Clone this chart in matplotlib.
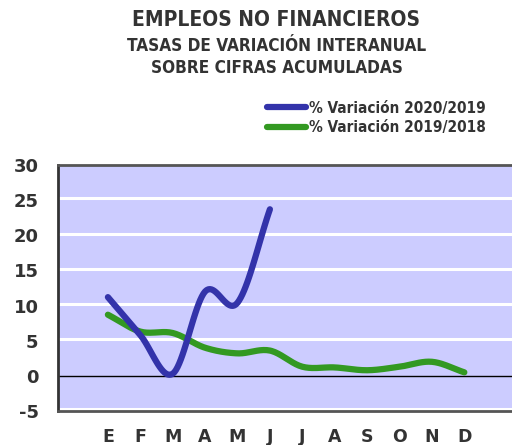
import numpy as np
import matplotlib
matplotlib.use("Agg")
import matplotlib.pyplot as plt
from matplotlib import font_manager as fm

months = ["E", "F", "M", "A", "M", "J", "J", "A", "S", "O", "N", "D"]
var_2020_2019 = [11.2, 5.8, 0.3, 12.0, 10.4, 23.7]
var_2019_2018 = [8.7, 6.3, 6.1, 4.0, 3.2, 3.6, 1.3, 1.2, 0.8, 1.3, 2.0, 0.5]
yticks = [-5, 0, 5, 10, 15, 20, 25, 30]

plt.rcParams["font.family"] = ["DejaVu Sans"]
has_cond = any(f.name == "DejaVu Sans" and f.stretch == "condensed" and f.weight in ("bold", 700)
               for f in fm.fontManager.ttflist)
STR = "condensed" if has_cond else "normal"
SC = 1.0 if has_cond else 0.9


def smooth(y, n=20):
    # Catmull-Rom curve through the points, for display only
    y = np.asarray(y, float)
    x = np.arange(len(y), dtype=float)
    if len(y) < 3:
        return x, y
    px = np.concatenate([[2 * x[0] - x[1]], x, [2 * x[-1] - x[-2]]])
    py = np.concatenate([[2 * y[0] - y[1]], y, [2 * y[-1] - y[-2]]])
    xs, ys = [], []
    t = np.linspace(0, 1, n, endpoint=False)
    for i in range(1, len(px) - 2):
        for P, out in ((px, xs), (py, ys)):
            p0, p1, p2, p3 = P[i - 1], P[i], P[i + 1], P[i + 2]
            out.extend(0.5 * ((2 * p1) + (-p0 + p2) * t
                              + (2 * p0 - 5 * p1 + 4 * p2 - p3) * t ** 2
                              + (-p0 + 3 * p1 - 3 * p2 + p3) * t ** 3))
    xs.append(x[-1]); ys.append(y[-1])
    return np.array(xs), np.array(ys)


fig = plt.figure(figsize=(5.12, 4.45), dpi=100)
W, H = 512, 445
left, right, top, bottom = 58, 522, 165, 411
ax = fig.add_axes([left / W, 1 - bottom / H, (right - left) / W, (bottom - top) / H])
ax.set_facecolor("#CCCCFF")
ax.set_ylim(-5, 30)
ax.set_xlim(-1.54, 12.78)

for v in yticks:
    if v == 0:
        ax.axhline(0, color="black", lw=1.0, zorder=2)
    else:
        ax.axhline(v + 0.25, color="white", lw=2.2, zorder=1)

xb, yb = smooth(var_2020_2019)
xg, yg = smooth(var_2019_2018)
ax.plot(xg, yg, color="#339922", lw=4.5, solid_capstyle="round", zorder=3,
        label="% Variación 2019/2018")
ax.plot(xb, yb, color="#3333AA", lw=4.5, solid_capstyle="round", zorder=4,
        label="% Variación 2020/2019")

ax.set_yticks(yticks)
ax.set_yticklabels([str(v) for v in yticks], fontsize=13, fontweight="bold",
                   color="#333333")
ax.set_xticks(range(len(months)))
ax.set_xticklabels(months, fontsize=12.5, fontweight="heavy", color="#333333")
ax.tick_params(length=0)
ax.tick_params(axis="y", pad=14)
ax.tick_params(axis="x", pad=12)
for s in ["top", "bottom"]:
    ax.spines[s].set_color("#555555")
    ax.spines[s].set_linewidth(2)
ax.spines["left"].set_color("#333333")
ax.spines["left"].set_linewidth(2)
ax.spines["right"].set_visible(False)

fig.text(0.54, 1 - 20 / H, "EMPLEOS NO FINANCIEROS", ha="center", va="center",
         fontsize=15 * SC, fontweight="bold", fontstretch=STR, color="#333333")
fig.text(0.54, 1 - 46 / H, "TASAS DE VARIACIÓN INTERANUAL", ha="center", va="center",
         fontsize=12.3 * SC, fontweight="bold", fontstretch=STR, color="#333333")
fig.text(0.54, 1 - 68 / H, "SOBRE CIFRAS ACUMULADAS", ha="center", va="center",
         fontsize=12.3 * SC, fontweight="bold", fontstretch=STR, color="#333333")

handles, labels = ax.get_legend_handles_labels()
leg = fig.legend(handles[::-1], labels[::-1], loc="center left",
                 bbox_to_anchor=(259 / W, 1 - 118 / H), frameon=False,
                 prop={"size": 11 * SC, "weight": "bold", "stretch": STR},
                 handlelength=2.6, handletextpad=0.2, labelspacing=0.3, borderpad=0)
for t in leg.get_texts():
    t.set_color("#333333")

fig.savefig("out.png", dpi=100)
